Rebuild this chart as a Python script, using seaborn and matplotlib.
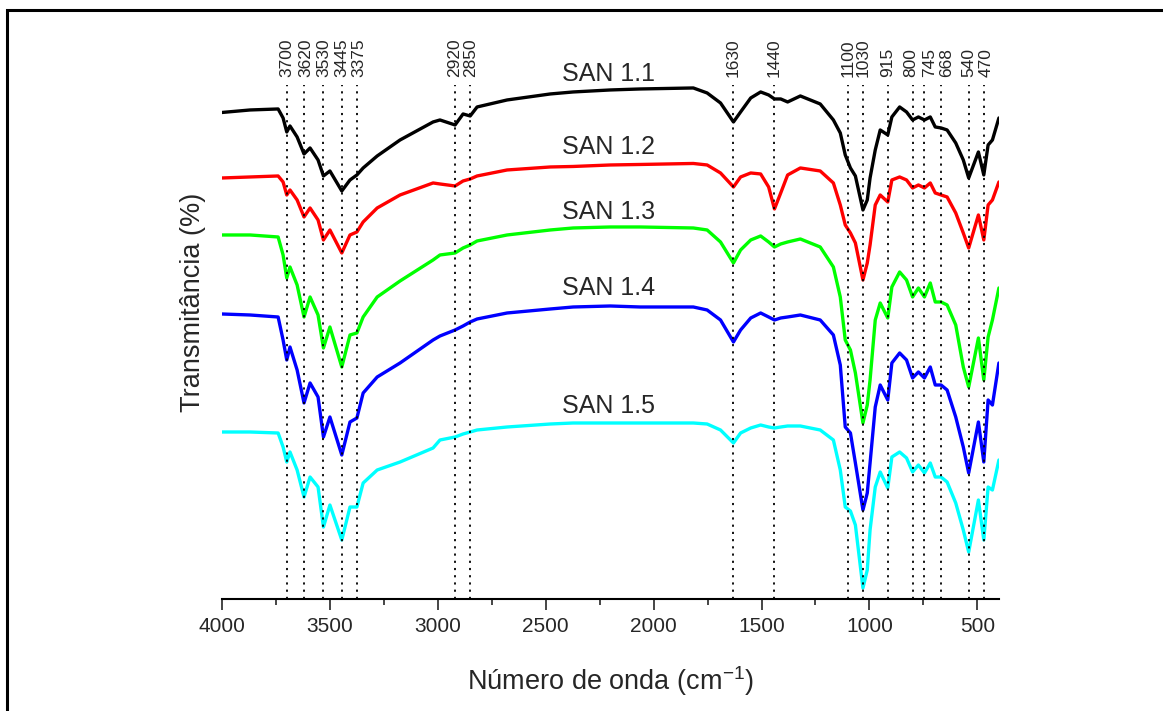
import matplotlib
matplotlib.use('Agg')
import matplotlib.pyplot as plt
import seaborn as sns
import pandas as pd
from matplotlib.patches import Rectangle
from matplotlib.ticker import MultipleLocator

wavenumber = [4000, 3870, 3740, 3717, 3700, 3685, 3652, 3620, 3592, 3555,
              3530, 3500, 3445, 3407, 3375, 3346, 3281, 3175, 3022, 2990,
              2920, 2883, 2850, 2818, 2679, 2479, 2373, 2201, 2062, 1816,
              1752, 1690, 1630, 1597, 1550, 1504, 1467, 1440, 1411, 1379,
              1320, 1228, 1167, 1135, 1112, 1088, 1065, 1030, 1010, 997,
              973, 950, 915, 896, 860, 828, 800, 773, 745, 718,
              695, 668, 640, 600, 565, 540, 495, 470, 450, 430, 400]

# Transmittance (offset spectra, arbitrary %)
san_11 = [97.3, 97.8, 98.0, 96.2, 93.4, 94.6, 92.4, 89.0, 90.2, 87.8,
          84.6, 85.6, 81.6, 83.8, 84.8, 86.2, 88.6, 91.8, 95.4, 95.8,
          94.8, 97.0, 96.6, 98.4, 99.8, 101.0, 101.4, 101.8, 102.0, 102.2,
          101.2, 99.2, 95.4, 97.4, 100.2, 101.4, 100.8, 100.0, 100.0, 99.4,
          100.6, 99.0, 95.8, 93.2, 88.8, 86.2, 84.6, 77.8, 79.8, 84.2,
          89.8, 93.8, 92.8, 96.4, 98.4, 97.4, 95.8, 96.4, 95.8, 96.4,
          94.4, 94.2, 93.8, 91.2, 87.8, 84.2, 89.4, 84.8, 90.8, 91.8, 96.2]

san_12 = [84.2, 84.4, 84.6, 83.4, 80.8, 81.8, 79.8, 76.4, 78.2, 75.8,
          71.8, 73.8, 69.2, 72.8, 73.4, 75.4, 78.2, 80.8, 83.2, 83.0,
          82.6, 83.6, 84.0, 84.6, 85.8, 86.4, 86.5, 86.8, 86.9, 87.1,
          86.8, 85.2, 82.4, 84.4, 85.2, 85.0, 82.4, 78.0, 81.2, 84.8,
          86.2, 85.6, 83.2, 78.8, 74.8, 73.2, 71.2, 63.8, 67.2, 70.8,
          78.8, 80.8, 79.4, 83.8, 84.4, 83.8, 82.2, 82.8, 82.2, 83.2,
          81.2, 80.8, 80.4, 77.2, 73.2, 70.2, 76.8, 71.8, 78.8, 79.8, 83.4]

san_13 = [72.8, 72.8, 72.4, 68.8, 64.2, 66.4, 62.8, 56.4, 60.4, 56.8,
          50.2, 54.4, 46.4, 52.8, 53.2, 56.4, 60.4, 63.6, 67.8, 68.8,
          69.2, 70.2, 70.8, 71.6, 72.8, 73.8, 74.2, 74.4, 74.4, 74.2,
          73.8, 71.4, 67.2, 69.8, 71.8, 72.6, 71.4, 70.4, 71.0, 71.4,
          72.0, 70.4, 66.4, 60.4, 51.8, 49.8, 45.2, 35.2, 38.8, 43.8,
          55.8, 59.2, 56.2, 62.4, 65.4, 63.8, 60.4, 62.2, 60.4, 63.2,
          59.4, 59.4, 58.8, 54.8, 46.4, 42.4, 52.2, 43.8, 52.4, 55.8, 62.2]

san_14 = [57.0, 56.8, 56.4, 51.8, 47.8, 50.4, 45.8, 39.2, 43.2, 40.4,
          32.4, 36.4, 28.8, 35.4, 36.2, 41.2, 44.4, 47.2, 51.8, 52.6,
          53.8, 54.6, 55.4, 56.0, 57.2, 58.0, 58.4, 58.6, 58.4, 58.4,
          57.8, 55.8, 51.4, 53.8, 56.2, 57.2, 56.4, 55.8, 56.2, 56.4,
          56.8, 55.8, 52.8, 46.8, 34.4, 33.2, 27.2, 17.8, 21.2, 27.2,
          38.4, 42.8, 39.8, 47.2, 49.2, 47.8, 44.2, 45.4, 44.2, 46.4,
          42.8, 42.8, 41.8, 36.4, 30.4, 25.2, 35.4, 27.4, 39.8, 38.8, 47.2]

san_15 = [33.4, 33.4, 33.2, 30.4, 27.4, 29.4, 25.8, 20.4, 24.4, 22.4,
          14.4, 18.8, 11.8, 18.4, 18.4, 23.2, 25.8, 27.4, 30.2, 31.8,
          32.4, 33.0, 33.4, 33.8, 34.4, 35.0, 35.2, 35.2, 35.2, 35.2,
          35.0, 33.8, 31.2, 33.2, 34.2, 34.8, 34.4, 34.2, 34.4, 34.6,
          34.6, 33.8, 31.8, 25.8, 18.4, 17.6, 14.8, 2.2, 5.8, 13.8,
          22.4, 25.4, 22.2, 28.4, 29.4, 28.2, 25.4, 26.8, 25.2, 27.2,
          24.4, 24.4, 23.4, 19.2, 13.8, 9.4, 19.8, 11.8, 22.4, 21.8, 27.8]

samples = ['SAN 1.1', 'SAN 1.2', 'SAN 1.3', 'SAN 1.4', 'SAN 1.5']
colors = ['#000000', '#FF0000', '#00FF00', '#0000FF', '#00FFFF']

# Marked bands
peaks = [3700, 3620, 3530, 3445, 3375, 2920, 2850, 1630, 1440,
         1100, 1030, 915, 800, 745, 668, 540, 470]
# small sideways nudges (points) for crowded band labels
label_nudge = {3620: 1.5, 3375: 1.5, 800: -1.2, 745: 3.6, 668: 4.3, 470: 1.8}

# where the sample names go (wavenumber, transmittance)
name_x = 2210
name_y = [105.0, 90.4, 77.4, 62.2, 38.6]

sns.set_style('white')
plt.rcParams['font.family'] = ['Liberation Sans', 'DejaVu Sans']
plt.rcParams['mathtext.fontset'] = 'custom'
plt.rcParams['mathtext.rm'] = 'Liberation Sans'

frames = []
for name, vals in zip(samples, [san_11, san_12, san_13, san_14, san_15]):
    frames.append(pd.DataFrame({'wn': wavenumber, 'T': vals, 'amostra': name}))
df = pd.concat(frames, ignore_index=True)

fig = plt.figure(figsize=(11.63, 7.11), dpi=100)
ax = fig.add_axes([0.1909, 0.1575, 0.668, 0.723])

sns.lineplot(data=df, x='wn', y='T', hue='amostra',
             palette=dict(zip(samples, colors)), estimator=None,
             linewidth=2.4, legend=False, ax=ax)

for p in peaks:
    ax.axvline(p, color='black', lw=1.3, ls=(0, (1.2, 2.8)), zorder=5)
    ax.annotate(str(p), xy=(p, 1.016), xycoords=ax.get_xaxis_transform(),
                xytext=(label_nudge.get(p, 0), 0), textcoords='offset points',
                rotation=90, ha='center', va='bottom', fontsize=12.5)

for name, y in zip(samples, name_y):
    ax.text(name_x, y, name, ha='center', va='center', fontsize=18)

ax.set_xlim(4000, 400)
ax.set_ylim(0, 102.8)
ax.set_xticks(list(range(4000, 499, -500)))
ax.xaxis.set_minor_locator(MultipleLocator(250))
ax.set_yticks([])
ax.tick_params(axis='x', which='major', direction='out', length=8,
               width=1.2, pad=5, labelsize=15, bottom=True)
ax.tick_params(axis='x', which='minor', direction='out', length=4.5,
               width=1.2, bottom=True)
for side in ['top', 'right', 'left']:
    ax.spines[side].set_visible(False)
ax.spines['bottom'].set_linewidth(1.5)
ax.spines['bottom'].set_color('black')

ax.set_xlabel('Número de onda (cm$^{\\mathregular{-1}}$)', fontsize=19.5)
ax.set_ylabel('Transmitância (%)', fontsize=19.5)
ax.xaxis.set_label_coords(0.5, -0.126)
ax.yaxis.set_label_coords(-0.02, 0.578)

# outer frame of the figure
fig.add_artist(Rectangle((7 / 1163, -0.1), 1.2, 1.1 - 10 / 711, fill=False,
                         lw=2.2, edgecolor='black', transform=fig.transFigure,
                         clip_on=False))

fig.savefig('out.png', dpi=100)
